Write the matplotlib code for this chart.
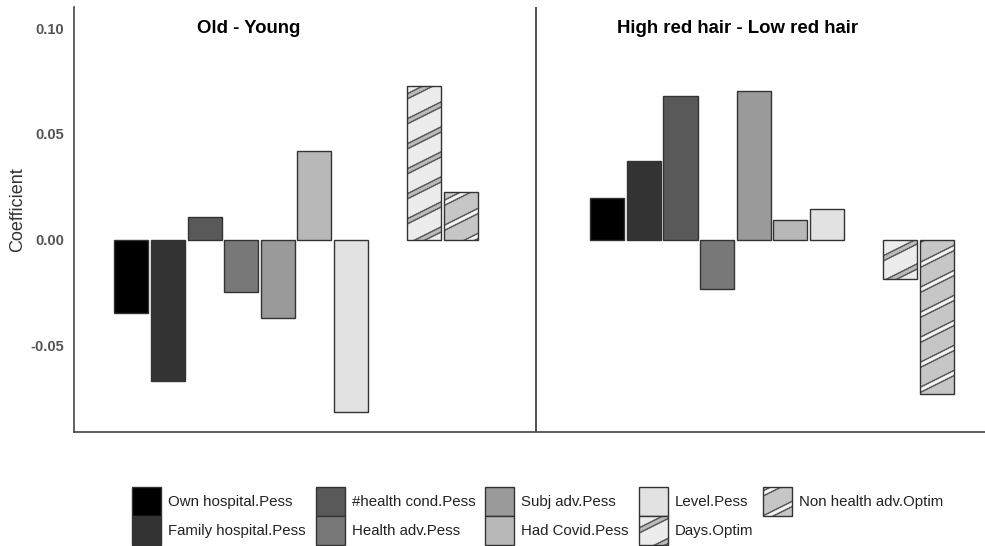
import warnings

import matplotlib
matplotlib.use('Agg')
import matplotlib.pyplot as plt
import matplotlib.hatch as mhatch
import numpy as np
from matplotlib.path import Path

warnings.filterwarnings('ignore', message='hatch must consist')

groups = ['Old - Young', 'High red hair - Low red hair']
series = ['Own hospital.Pess', 'Family hospital.Pess', '#health cond.Pess',
          'Health adv.Pess', 'Subj adv.Pess', 'Had Covid.Pess', 'Level.Pess',
          'Days.Optim', 'Non health adv.Optim']
old_young = [-0.0348, -0.0669, 0.0106, -0.0248, -0.0371, 0.0418, -0.0816, 0.0726, 0.0225]
red_hair = [0.0196, 0.0371, 0.0678, -0.0234, 0.0702, 0.0092, 0.0144, -0.0187, -0.0730]
yticks = [-0.05, 0.00, 0.05, 0.10]


# shallow diagonal bands: 'b' gives the wide band, 'k' the narrow one inside it
class BandHatch(mhatch.HatchPatternBase):
    def __init__(self, hatch, density):
        self.half = 0.03 if 'b' in hatch else (0.014 if 'k' in hatch else 0)
        self.offsets = np.arange(-0.75, 1.01, 0.25)
        self.num_vertices = 5 * len(self.offsets) if self.half else 0

    def set_vertices_and_codes(self, vertices, codes):
        x = np.array([-0.1, 1.1, 1.1, -0.1, -0.1])
        d = self.half * np.array([-1, -1, 1, 1, -1])
        for i, c in enumerate(self.offsets):
            vertices[5 * i:5 * i + 5, 0] = x
            vertices[5 * i:5 * i + 5, 1] = c + 0.5 * x + d
            codes[5 * i:5 * i + 5] = [Path.MOVETO, Path.LINETO, Path.LINETO,
                                      Path.LINETO, Path.CLOSEPOLY]


mhatch._hatch_types.append(BandHatch)

plt.rcParams['font.family'] = ['Liberation Sans', 'DejaVu Sans']
plt.rcParams['hatch.linewidth'] = 0.5

fig, ax = plt.subplots(figsize=(9.85, 5.46), dpi=100)
fig.subplots_adjust(left=0.0751, right=1.0, bottom=0.2093, top=0.9877)

slots = np.array([0, 1, 2, 3, 4, 5, 6, 8, 9])
group_step = 13
width = 0.93
values = np.array([old_young, red_hair])
fills = ['#000000', '#333333', '#595959', '#787878', '#9a9a9a',
         '#b8b8b8', '#e2e2e2', '#ececec', '#c6c6c6']
bands = {7: ('#505050', '#bdbdbd'), 8: ('#505050', '#f6f6f6')}

handles = []
for i, name in enumerate(series):
    x = slots[i] + group_step * np.arange(len(groups))
    if i in bands:
        dark, light = bands[i]
        base = ax.bar(x, values[:, i], width, facecolor=fills[i], edgecolor=dark,
                      linewidth=0, hatch='b')
        inner = ax.bar(x, values[:, i], width, facecolor='none', edgecolor=light,
                       linewidth=0, hatch='k')
        edge = ax.bar(x, values[:, i], width, facecolor='none',
                      edgecolor='#333333', linewidth=1.0)
        handles.append((base[0], inner[0], edge[0]))
    else:
        bars = ax.bar(x, values[:, i], width, facecolor=fills[i],
                      edgecolor='#333333', linewidth=1.0)
        handles.append(bars[0])

# panel divider and panel titles
ax.axvline(11.05, color='#333333', linewidth=1.2)
ax.text(3.2, 0.1, groups[0], ha='center', va='center', fontsize=13.4, fontweight='bold')
ax.text(16.55, 0.1, groups[1], ha='center', va='center', fontsize=13.4, fontweight='bold')

ax.set_xlim(-1.571, 23.32)
ax.set_ylim(-0.0909, 0.1101)
ax.set_xticks([])
ax.set_yticks(yticks)
ax.set_yticklabels(['%.2f' % t for t in yticks], fontweight='bold', color='#555555',
                   fontsize=10.5)
ax.tick_params(axis='y', length=0, pad=7)
for side in ['top', 'right']:
    ax.spines[side].set_visible(False)
for side in ['left', 'bottom']:
    ax.spines[side].set_color('#444444')
    ax.spines[side].set_linewidth(1.2)

fig.text(18 / 985, 1 - 210 / 546, 'Coefficient', rotation=90, ha='center', va='center',
         fontsize=13, color='#333333')

fig.legend(handles, series, loc='center', bbox_to_anchor=(0.546, 0.055), ncol=5,
           frameon=False, fontsize=10.8, handlelength=1.93, handleheight=2.6,
           labelspacing=0, handletextpad=0.47, columnspacing=0.67, borderpad=0,
           labelcolor='#222222')

plt.savefig('out.png')
